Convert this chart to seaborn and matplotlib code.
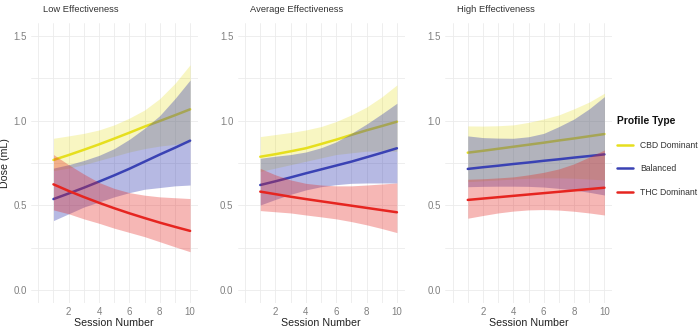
import numpy as np
import pandas as pd
import matplotlib
matplotlib.use("Agg")
import matplotlib.pyplot as plt
import seaborn as sns
from matplotlib.lines import Line2D

sns.set_theme(style="white")
plt.rcParams["font.family"] = ["Liberation Sans", "DejaVu Sans"]

sessions = [1, 2, 3, 4, 5, 6, 7, 8, 9, 10]
profiles = ["CBD Dominant", "Balanced", "THC Dominant"]
panels = ["Low Effectiveness", "Average Effectiveness", "High Effectiveness"]
colors = ["#E6DF1E", "#3A42B4", "#E62520"]
fill_alpha = [0.27, 0.37, 0.33]

# ---- Low effectiveness ----
low_cbd_fit = [0.768, 0.797, 0.828, 0.860, 0.894, 0.929, 0.965, 0.998, 1.032, 1.067]
low_cbd_lo  = [0.705, 0.720, 0.740, 0.765, 0.790, 0.815, 0.835, 0.850, 0.860, 0.870]
low_cbd_hi  = [0.896, 0.910, 0.925, 0.945, 0.975, 1.015, 1.063, 1.130, 1.220, 1.330]
low_bal_fit = [0.537, 0.570, 0.604, 0.640, 0.677, 0.716, 0.758, 0.800, 0.840, 0.882]
low_bal_lo  = [0.410, 0.450, 0.490, 0.520, 0.550, 0.575, 0.595, 0.605, 0.615, 0.620]
low_bal_hi  = [0.720, 0.740, 0.765, 0.795, 0.835, 0.890, 0.955, 1.030, 1.130, 1.240]
low_thc_fit = [0.624, 0.585, 0.549, 0.515, 0.483, 0.453, 0.425, 0.398, 0.373, 0.349]
low_thc_lo  = [0.473, 0.450, 0.420, 0.394, 0.365, 0.340, 0.315, 0.285, 0.255, 0.226]
low_thc_hi  = [0.800, 0.740, 0.685, 0.635, 0.600, 0.575, 0.560, 0.550, 0.545, 0.540]

# ---- Average effectiveness ----
avg_cbd_fit = [0.787, 0.802, 0.819, 0.837, 0.862, 0.888, 0.916, 0.943, 0.968, 0.994]
avg_cbd_lo  = [0.700, 0.720, 0.740, 0.760, 0.780, 0.800, 0.810, 0.820, 0.820, 0.820]
avg_cbd_hi  = [0.906, 0.918, 0.930, 0.945, 0.965, 0.995, 1.034, 1.080, 1.140, 1.211]
avg_bal_fit = [0.620, 0.642, 0.665, 0.689, 0.712, 0.735, 0.758, 0.784, 0.810, 0.837]
avg_bal_lo  = [0.502, 0.535, 0.565, 0.591, 0.610, 0.622, 0.630, 0.632, 0.632, 0.632]
avg_bal_hi  = [0.778, 0.790, 0.800, 0.815, 0.840, 0.875, 0.925, 0.980, 1.040, 1.103]
avg_thc_fit = [0.581, 0.566, 0.551, 0.537, 0.524, 0.511, 0.498, 0.485, 0.472, 0.459]
avg_thc_lo  = [0.469, 0.462, 0.455, 0.443, 0.432, 0.420, 0.404, 0.385, 0.363, 0.339]
avg_thc_hi  = [0.718, 0.680, 0.650, 0.630, 0.620, 0.615, 0.615, 0.620, 0.626, 0.632]

# ---- High effectiveness ----
high_cbd_fit = [0.811, 0.822, 0.834, 0.846, 0.858, 0.870, 0.883, 0.895, 0.908, 0.921]
high_cbd_lo  = [0.640, 0.645, 0.650, 0.655, 0.660, 0.662, 0.662, 0.660, 0.655, 0.650]
high_cbd_hi  = [0.969, 0.968, 0.970, 0.975, 0.990, 1.010, 1.034, 1.070, 1.110, 1.162]
high_bal_fit = [0.715, 0.725, 0.734, 0.744, 0.753, 0.763, 0.772, 0.782, 0.791, 0.801]
high_bal_lo  = [0.610, 0.612, 0.613, 0.613, 0.612, 0.608, 0.600, 0.590, 0.577, 0.561]
high_bal_hi  = [0.910, 0.900, 0.897, 0.896, 0.905, 0.925, 0.965, 1.010, 1.070, 1.142]
high_thc_fit = [0.532, 0.540, 0.548, 0.556, 0.564, 0.572, 0.580, 0.588, 0.596, 0.604]
high_thc_lo  = [0.424, 0.440, 0.455, 0.466, 0.473, 0.475, 0.472, 0.465, 0.455, 0.443]
high_thc_hi  = [0.654, 0.657, 0.662, 0.668, 0.680, 0.695, 0.715, 0.745, 0.785, 0.827]

series = {
    "Low Effectiveness": [(low_cbd_fit, low_cbd_lo, low_cbd_hi),
                          (low_bal_fit, low_bal_lo, low_bal_hi),
                          (low_thc_fit, low_thc_lo, low_thc_hi)],
    "Average Effectiveness": [(avg_cbd_fit, avg_cbd_lo, avg_cbd_hi),
                              (avg_bal_fit, avg_bal_lo, avg_bal_hi),
                              (avg_thc_fit, avg_thc_lo, avg_thc_hi)],
    "High Effectiveness": [(high_cbd_fit, high_cbd_lo, high_cbd_hi),
                           (high_bal_fit, high_bal_lo, high_bal_hi),
                           (high_thc_fit, high_thc_lo, high_thc_hi)],
}

rows = []
for pan in panels:
    for prof, (fit, lo, hi) in zip(profiles, series[pan]):
        for s, f, l, h in zip(sessions, fit, lo, hi):
            rows.append(dict(panel=pan, profile=prof, session=s, dose=f, lo=l, hi=h))
df = pd.DataFrame(rows)

W, H = 700, 330
fig = plt.figure(figsize=(7, 3.3), dpi=100)
fig.patch.set_facecolor("white")

panel_left_px = [30.7, 237.5, 445.0]
panel_w_px = 167.0
top_px, bot_px = 23.3, 302.7

for i, pan in enumerate(panels):
    ax = fig.add_axes([panel_left_px[i] / W, 1 - bot_px / H,
                       panel_w_px / W, (bot_px - top_px) / H])
    ax.set_facecolor("white")
    sub = df[df.panel == pan]
    for j, prof in enumerate(profiles):
        d = sub[sub.profile == prof]
        ax.fill_between(d.session, d.lo, d.hi, color=colors[j],
                        alpha=fill_alpha[j], lw=0, zorder=2 + 2 * j)
        sns.lineplot(data=d, x="session", y="dose", ax=ax, color=colors[j],
                     lw=1.8, zorder=3 + 2 * j, legend=False)
    ax.set_xlim(-0.5, 10.5)
    ax.set_ylim(-0.075, 1.575)
    ax.set_xticks([2, 4, 6, 8, 10])
    ax.set_xticks([0, 1, 3, 5, 7, 9], minor=True)
    ax.set_yticks([0, 0.5, 1.0, 1.5])
    ax.set_yticklabels(["0.0", "0.5", "1.0", "1.5"])
    ax.set_yticks([0.25, 0.75, 1.25], minor=True)
    ax.grid(which="both", color="#EBEBEB", lw=0.6)
    ax.set_axisbelow(True)
    for sp in ax.spines.values():
        sp.set_visible(False)
    ax.tick_params(which="both", length=0, labelsize=7, labelcolor="#808080")
    ax.tick_params(axis="y", pad=3.0)
    ax.tick_params(axis="x", pad=3.0)
    ax.set_xlabel("Session Number", fontsize=7.7, color="#222222", labelpad=1)
    if i == 0:
        ax.set_ylabel("Dose (mL)", fontsize=7.7, color="#222222", labelpad=2)
    else:
        ax.set_ylabel("")
    fig.text((panel_left_px[i] + 12) / W, 1 - 10 / H, pan, fontsize=6.75,
             color="#333333", ha="left", va="center")

handles = [Line2D([0], [0], color=colors[j], lw=1.8, label=prof)
           for j, prof in enumerate(profiles)]

leg = fig.legend(handles=handles, loc="upper left",
                 bbox_to_anchor=(617 / W, 1 - 116.5 / H), frameon=False,
                 title="Profile Type", fontsize=6.2, handlelength=1.9,
                 handletextpad=0.8, labelspacing=1.68, borderaxespad=0,
                 borderpad=0)
leg.get_title().set_fontsize(7.4)
leg.get_title().set_fontweight("bold")
leg.get_title().set_color("#111111")
leg._legend_box.align = "left"
for t in leg.get_texts():
    t.set_color("#333333")

fig.savefig("out.png", dpi=100, facecolor="white")
